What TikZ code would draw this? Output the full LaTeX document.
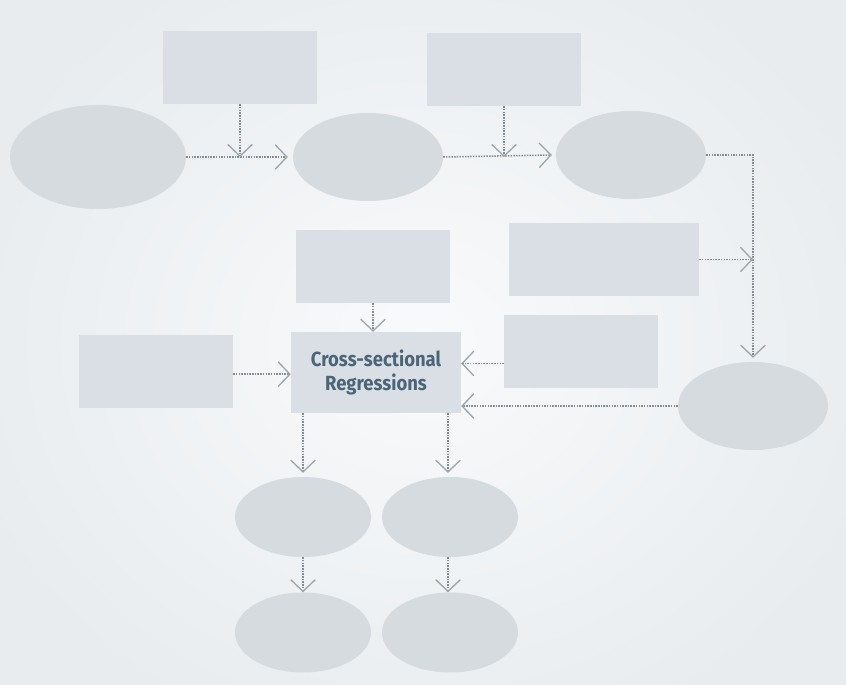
\documentclass[tikz,border=0pt]{standalone}
\usepackage{fontspec}
\setsansfont{Fira Sans}[FakeStretch=0.9]
\usepackage{tikz}
\usetikzlibrary{shapes.geometric, arrows.meta, positioning, calc}
\definecolor{boxgray}{HTML}{D9DFE4}
\definecolor{ovalgray}{HTML}{D6DBE0}
\definecolor{linegray}{HTML}{858D94}
\definecolor{tipgray}{HTML}{9DA4AA}
\definecolor{textblue}{HTML}{4B6478}
\definecolor{bgcenter}{HTML}{F9FAFB}
\definecolor{bgedge}{HTML}{E8ECEF}
\tikzstyle{arrow} = [densely dotted, line width=1.3pt, draw=linegray, -{Straight Barb[length=10pt, width=21pt, line width=1.1pt, color=tipgray]}]

\begin{document}
\begin{tikzpicture}[
    x=0.03cm, y=-0.03cm,
    box/.style={rectangle, fill=boxgray, inner sep=0pt, minimum width=4.62cm, minimum height=2.19cm},
    widebox/.style={box, minimum width=5.7cm},
    mainbox/.style={box, minimum width=5.1cm, minimum height=2.43cm, align=center, font=\sffamily\bfseries\fontsize{17.5}{21}\selectfont, text=textblue},
    bigoval/.style={ellipse, fill=ovalgray, inner sep=0pt, minimum width=5.28cm, minimum height=3.12cm},
    oval/.style={ellipse, fill=ovalgray, inner sep=0pt, minimum width=4.5cm, minimum height=2.64cm},
    smalloval/.style={ellipse, fill=ovalgray, inner sep=0pt, minimum width=4.08cm, minimum height=2.4cm}
]

    % Background
    \useasboundingbox (0,0) rectangle (846,685);
    \shade[inner color=bgcenter, outer color=bgedge] (-60,-80) rectangle (906,765);

    % Top row
    \node[box] (inputA) at (240,67.5) {};
    \node[box] (inputB) at (504,69.5) {};
    \node[bigoval] (stage1) at (98,157) {};
    \node[oval] (stage2) at (368,157) {};
    \node[oval] (stage3) at (631,155) {};

    % Middle row
    \node[widebox] (inputC) at (604,259.5) {};
    \node[box] (inputD) at (373,266.5) {};
    \node[mainbox] (regress) at (376,372.5) {Cross-sectional\\Regressions};
    \node[box] (inputE) at (581,351.5) {};
    \node[box] (inputF) at (156,371.5) {};
    \node[oval] (stage4) at (753,406) {};

    % Outputs
    \node[smalloval] (outA) at (303,517) {};
    \node[smalloval] (outB) at (450,517) {};
    \node[smalloval] (resA) at (303,632.5) {};
    \node[smalloval] (resB) at (450,632.5) {};

    % Connections
    \draw[arrow] (stage1) -- ([xshift=-0.15cm]stage2.west);
    \draw[arrow] (inputA.south) -- (inputA.south |- stage1.east);
    \draw[arrow] (stage2.east) -- ([xshift=-0.12cm]stage3.west);
    \draw[arrow] (inputB.south) -- (inputB.south |- stage2.east);
    \draw[arrow] (stage3.east) -| ([yshift=0.12cm]stage4.north);
    \draw[arrow] (inputC.east) -- (inputC.east -| stage4.north);
    \draw[arrow] (inputD.south) -- (inputD.south |- regress.north);
    \draw[arrow] ([yshift=-0.08cm]inputF.east) -- ([yshift=-0.08cm]inputF.east -| regress.west);
    \coordinate (fromE) at ($(inputE.west)+(0,12)$);
    \draw[arrow] (fromE) -- (fromE -| regress.east);
    \draw[arrow] (stage4.west) -- (stage4.west -| regress.east);
    \draw[arrow] (outA.north |- regress.south) -- ([yshift=0.12cm]outA.north);
    \draw[arrow] ([xshift=-0.06cm]outB.north |- regress.south) -- ([xshift=-0.06cm,yshift=0.12cm]outB.north);
    \draw[arrow] (outA.south) -- (resA.north);
    \draw[arrow] ([xshift=-0.06cm]outB.south) -- ([xshift=-0.06cm]resB.north);

\end{tikzpicture}
\end{document}
